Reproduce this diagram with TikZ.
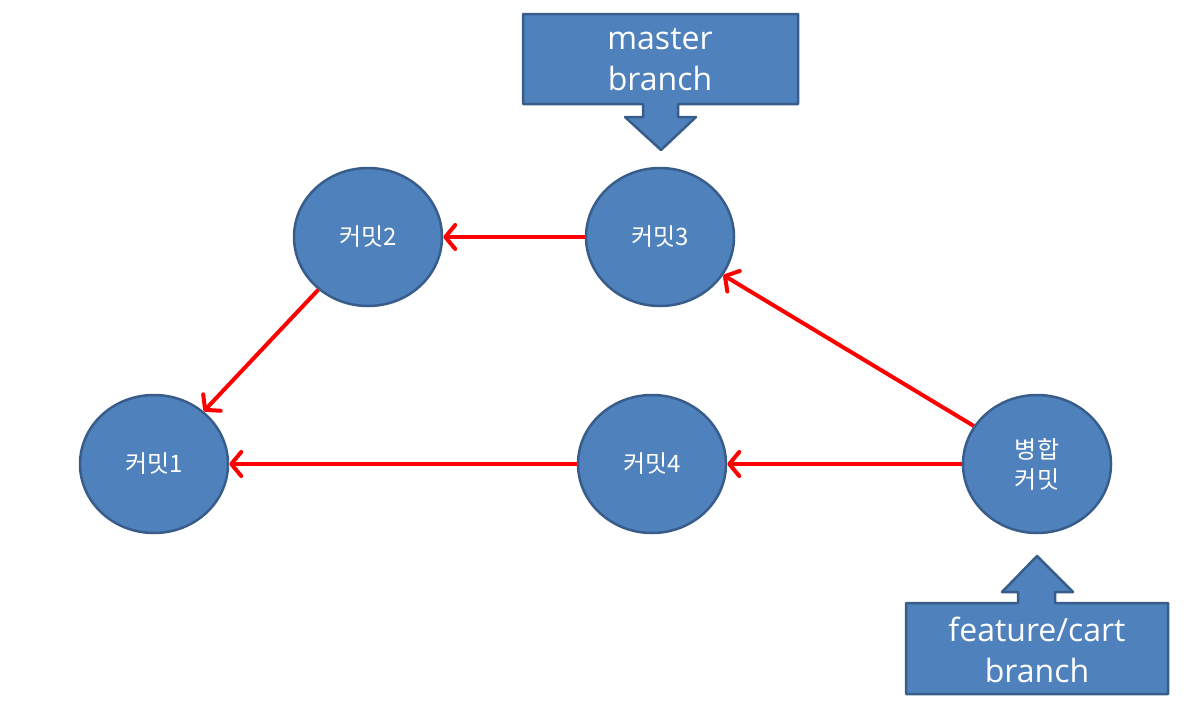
\documentclass[tikz,border=0pt]{standalone}
\usepackage{fontspec}
\setmainfont{Open Sans}
\newfontfamily\kr{Noto Sans CJK KR}
\usetikzlibrary{shapes.geometric,arrows.meta}
\definecolor{fillblue}{HTML}{4F81BD}
\definecolor{edgeblue}{HTML}{385D8A}
\tikzset{
  commit/.style={ellipse,draw=edgeblue,fill=fillblue,line width=2.5pt,minimum width=148pt,minimum height=138pt,inner sep=0pt,text=white,font=\kr\fontsize{24}{30}\selectfont,align=center},
  callout/.style={draw=edgeblue,fill=fillblue,line width=2.5pt,line join=round},
  calltext/.style={text=white,font=\fontsize{32}{41}\selectfont,align=center},
  link/.style={draw=red,line width=4pt,-{Straight Barb[length=10pt,width=24pt,round]}}
}
\begin{document}
\begin{tikzpicture}[x=1pt,y=-1pt]
\useasboundingbox (0,0) rectangle (1186,718);
% master callout
\draw[callout] (523,14) -- (798,14) -- (798,104) -- (678,104) -- (678,117) -- (696,117) -- (661,150) -- (625,117) -- (643,117) -- (643,104) -- (523,104) -- cycle;
\node[calltext] (master) at (660,60) {master\\branch};
% feature callout
\draw[callout] (906,603) -- (1018,603) -- (1018,592) -- (1002,592) -- (1037,556) -- (1073,592) -- (1055,592) -- (1055,603) -- (1168,603) -- (1168,694) -- (906,694) -- cycle;
\node[calltext] (feature) at (1037,650) {feature/cart\\branch};
% commits
\node[commit] (c1) at (154,464) {커밋1};
\node[commit] (c2) at (368,237) {커밋2};
\node[commit] (c3) at (660,237) {커밋3};
\node[commit] (c4) at (652,464) {커밋4};
\node[commit] (m) at (1037,464) {병합\\커밋};
% links
\draw[link] (c3) -- (c2);
\draw[link] (c2) -- (c1);
\draw[link] (c4) -- (c1);
\draw[link] (m) -- (c4);
\draw[link] (m) -- (c3);
\end{tikzpicture}
\end{document}
